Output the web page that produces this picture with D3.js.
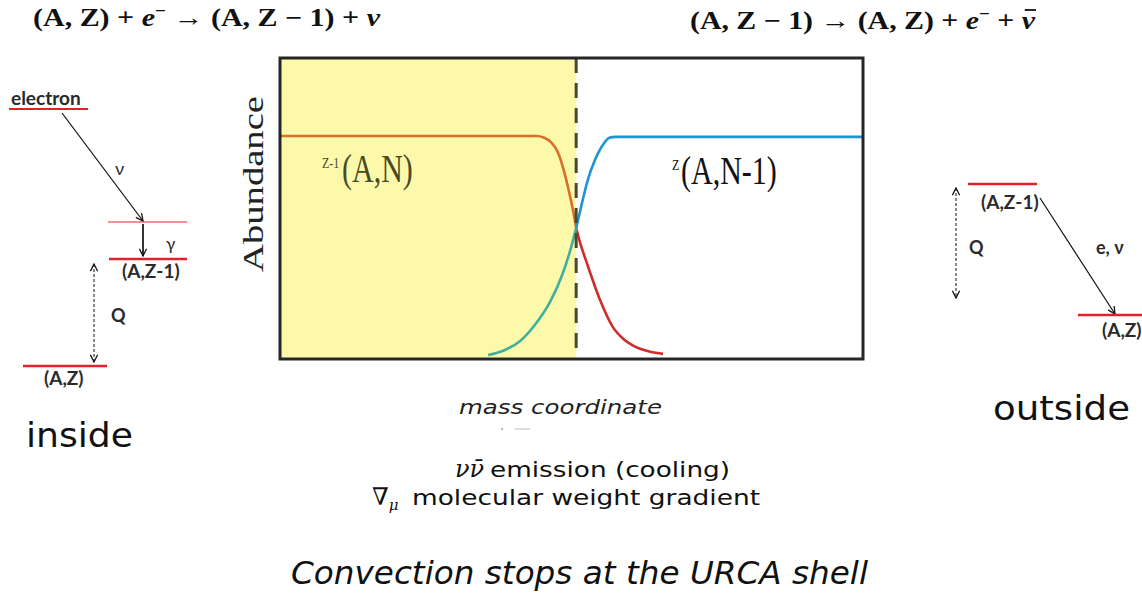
<!DOCTYPE html>
<html><head><meta charset="utf-8">
<script src="https://cdn.jsdelivr.net/npm/d3@7"></script>
<style>body{margin:0;background:#fff} svg{display:block}</style>
</head><body>
<svg id="c" width="1142" height="594"></svg>
<script>
// ---- data (mass coordinate 0..1, abundance 0..1) ----
const massZm1 = [0, 0.440, 0.452, 0.465, 0.477, 0.487, 0.497, 0.503, 0.508, 0.515, 0.527, 0.549, 0.571, 0.590, 0.605, 0.635, 0.657];
const abundZm1 = [0.741, 0.741, 0.736, 0.720, 0.685, 0.625, 0.545, 0.490, 0.435, 0.385, 0.315, 0.196, 0.106, 0.065, 0.045, 0.024, 0.017];
const massZ = [0.357, 0.386, 0.412, 0.437, 0.463, 0.484, 0.497, 0.508, 0.518, 0.528, 0.540, 0.554, 0.565, 0.575, 1];
const abundZ = [0.013, 0.030, 0.060, 0.113, 0.189, 0.279, 0.355, 0.435, 0.518, 0.595, 0.660, 0.712, 0.735, 0.738, 0.738];
const urcaShell = 0.508;
const seriesLabels = ["Z-1", "(A,N)", "Z", "(A,N-1)"];

const svg = d3.select("#c");
const x = d3.scaleLinear().domain([0, 1]).range([280, 863]);
const y = d3.scaleLinear().domain([0, 1]).range([359, 58]);

const defs = svg.append("defs");
defs.append("marker").attr("id", "arr").attr("viewBox", "0 0 10 10").attr("refX", 9).attr("refY", 5)
  .attr("markerWidth", 9).attr("markerHeight", 9).attr("markerUnits", "userSpaceOnUse").attr("orient", "auto-start-reverse")
  .append("path").attr("d", "M1,1 L9,5 L1,9").attr("fill", "none").attr("stroke", "#111").attr("stroke-width", 1.4);

// ---- chart ----
svg.append("rect").attr("x", x(0)).attr("y", y(1)).attr("width", x(urcaShell) - x(0)).attr("height", y(0) - y(1))
  .attr("fill", "#fdf9ab");

const line = d3.line().x(d => x(d[0])).y(d => y(d[1])).curve(d3.curveMonotoneX);
const zm1 = massZm1.map((m, i) => [m, abundZm1[i]]);
const zz = massZ.map((m, i) => [m, abundZ[i]]);

svg.append("path").datum(zm1.filter(d => d[0] <= urcaShell)).attr("d", line).attr("fill", "none").attr("stroke", "#d8702a").attr("stroke-width", 2.6);
svg.append("path").datum(zm1.filter(d => d[0] >= urcaShell)).attr("d", line).attr("fill", "none").attr("stroke", "#cc2f2a").attr("stroke-width", 2.6);
svg.append("path").datum(zz.filter(d => d[0] <= urcaShell)).attr("d", line).attr("fill", "none").attr("stroke", "#3fb0a0").attr("stroke-width", 2.6);
svg.append("path").datum(zz.filter(d => d[0] >= urcaShell)).attr("d", line).attr("fill", "none").attr("stroke", "#1b95d3").attr("stroke-width", 2.6);

svg.append("line").attr("x1", x(urcaShell)).attr("x2", x(urcaShell)).attr("y1", y(1)).attr("y2", y(0))
  .attr("stroke", "#4a4832").attr("stroke-width", 3).attr("stroke-dasharray", "15,10");

svg.append("rect").attr("x", x(0)).attr("y", y(1)).attr("width", x(1) - x(0)).attr("height", y(0) - y(1))
  .attr("fill", "none").attr("stroke", "#262626").attr("stroke-width", 3);

// series labels
const serif = "'Liberation Serif', 'DejaVu Serif', serif";
function lab(x0, y0, sup, main, col) {
  const g = svg.append("g").attr("transform", `translate(${x0},${y0}) scale(1,1.3)`).attr("fill", col).style("font-family", serif);
  g.append("text").attr("x", 0).attr("y", -11).attr("font-size", 12).text(sup);
  const w = sup.length > 1 ? 20 : 9;
  g.append("text").attr("x", w).attr("y", 0).attr("font-size", 30).text(main);
}
lab(322, 182, seriesLabels[0], seriesLabels[1], "#4a4a22");
lab(672, 184, seriesLabels[2], seriesLabels[3], "#111");

svg.append("text").attr("transform", "translate(263,184) rotate(-90)").attr("text-anchor", "middle")
  .style("font-family", serif).attr("font-size", 29).attr("fill", "#222")
  .attr("textLength", 176).attr("lengthAdjust", "spacingAndGlyphs").text("Abundance");

// ---- text ----
const sans = "'DejaVu Sans', sans-serif";
svg.append("text").attr("x", 459).attr("y", 414).attr("font-size", 20).attr("font-style", "italic")
  .style("font-family", sans).attr("fill", "#222").attr("textLength", 203).attr("lengthAdjust", "spacingAndGlyphs").text("mass coordinate");
svg.append("line").attr("x1", 515).attr("x2", 530).attr("y1", 429).attr("y2", 429).attr("stroke", "#bbb").attr("stroke-width", 1);
svg.append("line").attr("x1", 501).attr("x2", 503).attr("y1", 429).attr("y2", 429).attr("stroke", "#999").attr("stroke-width", 1.5);

svg.append("text").attr("x", 455).attr("y", 477).attr("font-size", 24).attr("font-style", "italic")
  .style("font-family", "'DejaVu Serif', serif").attr("fill", "#111").text("νν̄");
svg.append("text").attr("x", 490).attr("y", 477).attr("font-size", 22)
  .style("font-family", sans).attr("fill", "#111").attr("textLength", 240).attr("lengthAdjust", "spacingAndGlyphs").text("emission (cooling)");
const gr = svg.append("text").attr("x", 372).attr("y", 505).style("font-family", "'DejaVu Serif', serif").attr("font-style", "italic").attr("fill", "#111");
gr.append("tspan").attr("font-size", 24).text("∇");
gr.append("tspan").attr("font-size", 15).attr("dy", 5).text("μ");
svg.append("text").attr("x", 412).attr("y", 505).attr("font-size", 22)
  .style("font-family", sans).attr("fill", "#111").attr("textLength", 348).attr("lengthAdjust", "spacingAndGlyphs").text("molecular weight gradient");

svg.append("text").attr("x", 291).attr("y", 584).attr("font-size", 32).attr("font-style", "italic")
  .style("font-family", sans).attr("fill", "#111").attr("textLength", 577).attr("lengthAdjust", "spacingAndGlyphs").text("Convection stops at the URCA shell");

svg.append("text").attr("x", 26).attr("y", 447).attr("font-size", 34).style("font-family", sans).attr("fill", "#111")
  .attr("textLength", 107).attr("lengthAdjust", "spacingAndGlyphs").text("inside");
svg.append("text").attr("x", 993).attr("y", 420).attr("font-size", 34).style("font-family", sans).attr("fill", "#111")
  .attr("textLength", 137).attr("lengthAdjust", "spacingAndGlyphs").text("outside");

// equations
function eq(x0, y0, w, parts, barLast) {
  const t = svg.append("text").attr("x", x0).attr("y", y0).attr("font-size", 25).attr("font-weight", "bold")
    .style("font-family", serif).attr("fill", "#111").attr("textLength", w).attr("lengthAdjust", "spacingAndGlyphs");
  parts.forEach(p => {
    const s = t.append("tspan").text(p[0]);
    if (p[1] === "i") s.attr("font-style", "italic");
    if (p[1] === "sup") s.attr("font-size", 16).attr("dy", -10);
    if (p[1] === "down") s.attr("dy", 10);
  });
  if (barLast) {
    const n = t.node().getNumberOfChars();
    const e = t.node().getExtentOfChar(n - 1);
    svg.append("line").attr("x1", e.x + 3).attr("x2", e.x + e.width + 1).attr("y1", y0 - 19).attr("y2", y0 - 19)
      .attr("stroke", "#111").attr("stroke-width", 1.8);
  }
}
eq(33, 26, 347, [["(A, Z) + "], ["e", "i"], ["−", "sup"], ["  → (A, Z − 1) + ", "down"], ["ν", "i"]], false);
eq(690, 29, 345, [["(A, Z − 1) →  (A, Z) + "], ["e", "i"], ["−", "sup"], [" + ", "down"], ["ν", "i"]], true);

// ---- level diagrams ----
const red = "#e3202a";
const dg = "'Lato', 'DejaVu Sans', sans-serif";
function hl(x1, x2, yy, w) { svg.append("line").attr("x1", x1).attr("x2", x2).attr("y1", yy).attr("y2", yy).attr("stroke", red).attr("stroke-width", w); }
function tx(x0, y0, s, fs, bold) { svg.append("text").attr("x", x0).attr("y", y0).attr("font-size", fs).attr("font-weight", bold ? "bold" : "normal").style("font-family", dg).attr("fill", "#2a2a2a").text(s); }
function ar(x1, y1, x2, y2, w, dash, both) {
  const l = svg.append("line").attr("x1", x1).attr("y1", y1).attr("x2", x2).attr("y2", y2).attr("stroke", "#111").attr("stroke-width", w).attr("marker-end", "url(#arr)");
  if (dash) l.attr("stroke-dasharray", dash);
  if (both) l.attr("marker-start", "url(#arr)");
}
// inside
tx(11, 105, "electron", 19, true);
hl(9, 88, 109, 2);
ar(62, 113, 143, 221, 1.2);
tx(115, 175, "ν", 18, false);
hl(108, 187, 222, 1);
ar(143, 224, 143, 256, 1.7);
tx(166, 250, "γ", 17, false);
hl(109, 187, 259, 2.5);
tx(122, 278, "(A,Z-1)", 19, true);
ar(94, 264, 94, 362, 1, "3,2", true);
tx(111, 322, "Q", 18, true);
hl(23, 107, 366, 2.5);
tx(44, 385, "(A,Z)", 19, true);
// outside
hl(968, 1037, 184, 2.5);
tx(981, 209, "(A,Z-1)", 19, true);
ar(956, 188, 956, 298, 1, "3,2", true);
tx(969, 254, "Q", 18, true);
ar(1040, 198, 1115, 314, 1.2);
tx(1096, 254, "e, ν", 18, true);
hl(1078, 1142, 315, 2.5);
tx(1102, 337, "(A,Z)", 19, true);
</script>
</body></html>
